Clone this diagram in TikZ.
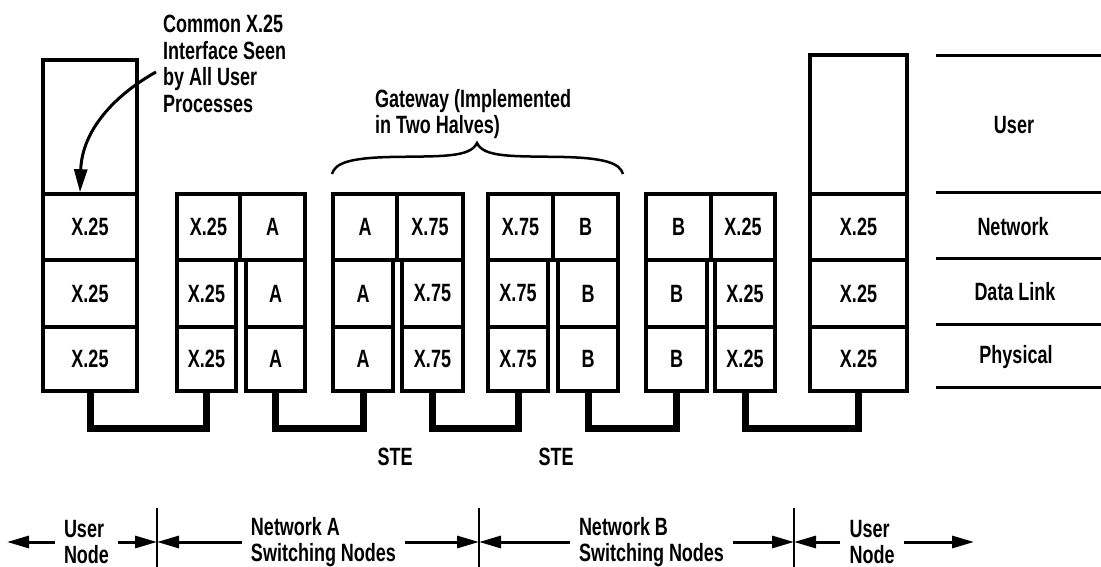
\documentclass[tikz,border=0pt]{standalone}
\usepackage{fontspec}
\setmainfont[FakeStretch=0.72]{Liberation Sans}
\usetikzlibrary{arrows.meta}
\begin{document}
\begin{tikzpicture}[x=1pt,y=-1pt,
  txt/.style={font=\fontsize{25}{26.5}\selectfont\bfseries, inner sep=0pt},
  cell/.style={draw, line width=3.5pt, inner sep=0pt, txt},
  conn/.style={line width=7pt, line join=miter, line cap=butt},
  layerline/.style={line width=3pt},
  brace/.style={line width=2.5pt},
  note/.style={line width=3pt, -{Triangle[length=23pt,width=13pt]}},
  barrow/.style={line width=3pt, -{Triangle[length=22pt,width=12pt]}},
  barline/.style={line width=2.5pt},
  btxt/.style={txt, align=left, inner xsep=9pt, inner ysep=0pt}]
\useasboundingbox (0,0) rectangle (1101,567);
\fill[white] (0,0) rectangle (1101,567);

% left user node
\node[cell, minimum width=94pt, minimum height=134pt] (uUsr) at (90,127) {};
\node[cell, minimum width=94pt, minimum height=66pt] (uNet) at (90,227) {X.25};
\node[cell, minimum width=94pt, minimum height=67pt] (uDl) at (90,293.5) {X.25};
\node[cell, minimum width=94pt, minimum height=64pt] (uPh) at (90,359) {X.25};

% switch A
\node[cell, minimum width=63pt, minimum height=66pt] (aNet1) at (208.5,227) {X.25};
\node[cell, minimum width=65pt, minimum height=66pt] (aNet2) at (272.5,227) {A};
\node[cell, minimum width=59pt, minimum height=67pt] (aDl1) at (206.5,293.5) {X.25};
\node[cell, minimum width=59pt, minimum height=67pt] (aDl2) at (275.5,293.5) {A};
\node[cell, minimum width=59pt, minimum height=64pt] (aPh1) at (206.5,359) {X.25};
\node[cell, minimum width=59pt, minimum height=64pt] (aPh2) at (275.5,359) {A};

% gateway left half
\node[cell, minimum width=64pt, minimum height=66pt] (gNet1) at (365,227) {A};
\node[cell, minimum width=66pt, minimum height=66pt] (gNet2) at (430,227) {X.75};
\node[cell, minimum width=60pt, minimum height=67pt] (gDl1) at (363,293.5) {A};
\node[cell, minimum width=61pt, minimum height=67pt] (gDl2) at (432.5,293.5) {X.75};
\node[cell, minimum width=60pt, minimum height=64pt] (gPh1) at (363,359) {A};
\node[cell, minimum width=61pt, minimum height=64pt] (gPh2) at (432.5,359) {X.75};

% gateway right half
\node[cell, minimum width=65pt, minimum height=66pt] (hNet1) at (520.5,227) {X.75};
\node[cell, minimum width=65pt, minimum height=66pt] (hNet2) at (585.5,227) {B};
\node[cell, minimum width=60pt, minimum height=67pt] (hDl1) at (518,293.5) {X.75};
\node[cell, minimum width=60pt, minimum height=67pt] (hDl2) at (588,293.5) {B};
\node[cell, minimum width=60pt, minimum height=64pt] (hPh1) at (518,359) {X.75};
\node[cell, minimum width=60pt, minimum height=64pt] (hPh2) at (588,359) {B};

% switch B
\node[cell, minimum width=65pt, minimum height=66pt] (bNet1) at (678.5,227) {B};
\node[cell, minimum width=64pt, minimum height=66pt] (bNet2) at (743,227) {X.25};
\node[cell, minimum width=61pt, minimum height=67pt] (bDl1) at (676.5,293.5) {B};
\node[cell, minimum width=60pt, minimum height=67pt] (bDl2) at (745,293.5) {X.25};
\node[cell, minimum width=61pt, minimum height=64pt] (bPh1) at (676.5,359) {B};
\node[cell, minimum width=60pt, minimum height=64pt] (bPh2) at (745,359) {X.25};

% right user node
\node[cell, minimum width=97pt, minimum height=139pt] (vUsr) at (858.5,124.5) {};
\node[cell, minimum width=97pt, minimum height=66pt] (vNet) at (858.5,227) {X.25};
\node[cell, minimum width=97pt, minimum height=67pt] (vDl) at (858.5,293.5) {X.25};
\node[cell, minimum width=97pt, minimum height=64pt] (vPh) at (858.5,359) {X.25};

% physical connections
\coordinate (bus) at (0,428);
\draw[conn] (uPh.south) -- (uPh.south |- bus) -| (aPh1.south);
\draw[conn] (aPh2.south) -- (aPh2.south |- bus) -| (gPh1.south);
\draw[conn] (gPh2.south) -- (gPh2.south |- bus) -| (hPh1.south);
\draw[conn] (hPh2.south) -- (hPh2.south |- bus) -| (bPh1.south);
\draw[conn] (bPh2.south) -- (bPh2.south |- bus) -| (vPh.south);

\node[txt] (ste1) at (395,457) {STE};
\node[txt] (ste2) at (556,457) {STE};

% annotation
\node[txt, align=left, anchor=north west] (ann) at (163,15) {Common X.25\\Interface Seen\\by All User\\Processes};
\coordinate (annA) at (156,72);
\draw[note] (annA) .. controls (115,95) and (82,130) .. ([xshift=-10pt]uNet.north);

% gateway brace
\node[txt, align=left, anchor=north west] (gw) at (375,89) {Gateway (Implemented\\in Two Halves)};
\draw[brace] (332,174) .. controls (335,163) and (350,158) .. (390,157)
  .. controls (440,156) and (470,158) .. (477,143)
  .. controls (484,158) and (514,156) .. (564,157)
  .. controls (604,158) and (620,163) .. (623,174);

% layer labels
\draw[layerline] (936,56) -- (1101,56);
\draw[layerline] (936,193) -- (1101,193);
\draw[layerline] (936,258) -- (1101,258);
\draw[layerline] (936,324) -- (1101,324);
\draw[layerline] (936,387) -- (1101,387);
\node[txt] (lUser) at (1014,125) {User};
\node[txt] (lNet) at (1013,227) {Network};
\node[txt] (lDl) at (1015,292) {Data Link};
\node[txt] (lPh) at (1016,357) {Physical};

% bottom extent labels
\coordinate (e0) at (7,542);
\coordinate (bar1) at (157,542);
\coordinate (bar2) at (479,542);
\coordinate (bar3) at (794,542);
\coordinate (e9) at (974,542);
\draw[barline] (157,508) -- (157,567);
\draw[barline] (479,508) -- (479,567);
\draw[barline] (794,508) -- (794,567);
\node[btxt] (un1) at (86.5,542) {User\\Node};
\node[btxt] (na) at (323.5,542) {Network A\\Switching Nodes};
\node[btxt] (nb) at (651.5,542) {Network B\\Switching Nodes};
\node[btxt] (un2) at (872,542) {User\\Node};
\draw[barrow] (un1.west) -- (e0);
\draw[barrow] (un1.east) -- (bar1);
\draw[barrow] (na.west) -- (bar1);
\draw[barrow] (na.east) -- (bar2);
\draw[barrow] (nb.west) -- (bar2);
\draw[barrow] (nb.east) -- (bar3);
\draw[barrow] (un2.west) -- (bar3);
\draw[barrow] (un2.east) -- (e9);
\end{tikzpicture}
\end{document}
